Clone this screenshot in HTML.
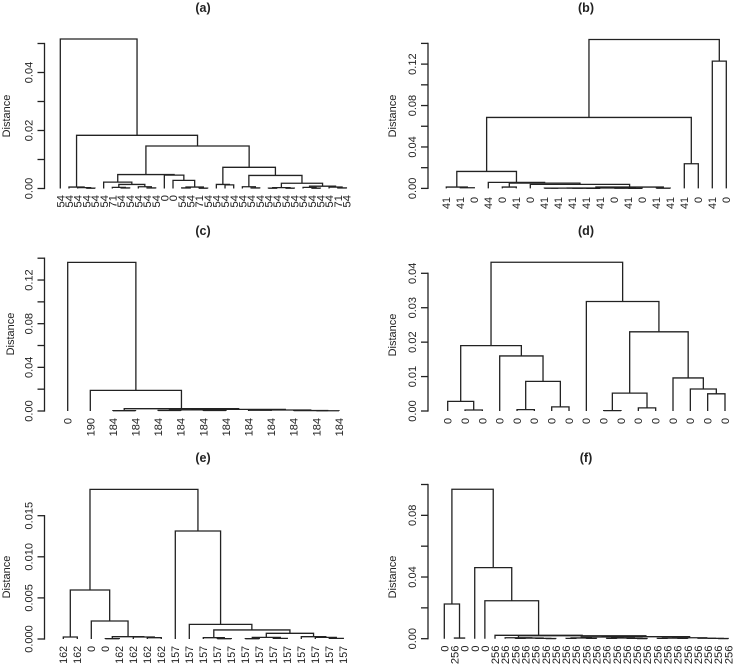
<!DOCTYPE html>
<html lang="en">
<head>
<meta charset="utf-8">
<title>Dendrogram panels (a)–(f)</title>
<style>
html,body{margin:0;padding:0;background:#fff;}
svg{display:block;font-family:"Liberation Sans",sans-serif;}
text{fill:#222;}
.panel-title{font-weight:bold;font-size:12.5px;text-anchor:middle;}
.y-title{font-size:11px;text-anchor:middle;}
</style>
</head>
<body>
<svg id="chart" width="734" height="665" viewBox="0 0 734 665" xmlns="http://www.w3.org/2000/svg">
  <text class="panel-title" x="203" y="12">(a)</text>
  <text class="panel-title" x="586" y="12">(b)</text>
  <text class="panel-title" x="203" y="235">(c)</text>
  <text class="panel-title" x="586" y="235">(d)</text>
  <text class="panel-title" x="203" y="462">(e)</text>
  <text class="panel-title" x="586" y="462">(f)</text>
  <text class="y-title" transform="translate(10,116) rotate(-90)">Distance</text>
  <text class="y-title" transform="translate(396,116) rotate(-90)">Distance</text>
  <text class="y-title" transform="translate(14,334) rotate(-90)">Distance</text>
  <text class="y-title" transform="translate(396,335) rotate(-90)">Distance</text>
  <text class="y-title" transform="translate(10,577) rotate(-90)">Distance</text>
  <text class="y-title" transform="translate(396,577) rotate(-90)">Distance</text>
</svg>
<script>
// Merge convention: a negative entry -n is the n-th leaf (left to right);
// a positive entry m is the m-th merge listed earlier in the same panel.

// Panel (a)
const labelsA = ["54","54","54","54","54","54","71","54","54","54","54","54","0","0","54","54","71","54","54","54","54","54","54","54","54","54","54","54","54","54","54","54","71","54"];
const mergeLeftA = [-4,-3,-2,-8,-7,-11,-10,5,-6,-15,-17,10,-14,-13,9,-20,-19,-23,-22,-25,-27,20,-30,-29,-33,-32,24,22,19,17,15,3,-1];
const mergeRightA = [-5,1,2,-9,4,-12,6,7,8,-16,-18,11,12,13,14,-21,16,-24,18,-26,-28,21,-31,23,-34,25,26,27,28,29,30,31,32];
const heightsA = [0.0001,0.0003,0.0005,0.0002,0.0004,0.0002,0.0006,0.0014,0.0022,0.0002,0.0001,0.0005,0.0028,0.0046,0.0048,0.00125,0.0014,0.0002,0.0006,0.0001,0.0001,0.0003,0.0001,0.0004,0.0002,0.0005,0.0008,0.0018,0.0045,0.0073,0.01465,0.01834,0.05156];
const ticksA = [0,0.01,0.02,0.03,0.04,0.05];
const tickLabelsA = ["0.00","","0.02","","0.04",""];

// Panel (b)
const labelsB = ["41","41","0","44","0","41","0","41","41","41","41","41","0","41","0","41","41","41","0","41","0"];
const mergeLeftB = [-2,-1,-5,-8,-11,-10,4,-14,-13,7,-16,10,-7,3,-4,2,-18,16,-20,18];
const mergeRightB = [-3,1,-6,-9,-12,5,6,-15,8,9,-17,11,12,13,14,15,-19,17,-21,19];
const heightsB = [0.0006,0.0013,0.0013,0.0002,0.0001,0.0002,0.0003,0.0001,0.0002,0.0004,0.0002,0.0013,0.0039,0.0051,0.0058,0.0164,0.0238,0.0685,0.1229,0.1438];
const ticksB = [0,0.02,0.04,0.06,0.08,0.10,0.12,0.14];
const tickLabelsB = ["0.00","","0.04","","0.08","","0.12",""];

// Panel (c)
const labelsC = ["0","190","184","184","184","184","184","184","184","184","184","184","184"];
const mergeLeftC = [-3,-5,-7,2,-9,-12,-11,5,4,1,-2,-1];
const mergeRightC = [-4,-6,-8,3,-10,-13,6,7,8,9,10,11];
const heightsC = [0.0003,0.0005,0.0005,0.0011,0.0007,0.0002,0.0004,0.0009,0.0015,0.0021,0.0189,0.1362];
const ticksC = [0,0.02,0.04,0.06,0.08,0.10,0.12,0.14];
const tickLabelsC = ["0.00","","0.04","","0.08","","0.12",""];

// Panel (d)
const labelsD = ["0","0","0","0","0","0","0","0","0","0","0","0","0","0","0","0","0"];
const mergeLeftD = [-2,-1,-5,-7,3,-4,2,-10,-12,8,-16,-15,-14,10,-9,7];
const mergeRightD = [-3,1,-6,-8,4,5,6,-11,-13,9,-17,11,12,13,14,15];
const heightsD = [0.0003,0.0028,0.0004,0.0012,0.0086,0.0160,0.0190,0.0001,0.0009,0.0052,0.0050,0.0064,0.0096,0.0230,0.0318,0.0432];
const ticksD = [0,0.01,0.02,0.03,0.04];
const tickLabelsD = ["0.00","0.01","0.02","0.03","0.04"];

// Panel (e)
const labelsE = ["162","162","0","0","162","162","162","162","157","157","157","157","157","157","157","157","157","157","157","157","157"];
const mergeLeftE = [-1,-4,-7,-6,2,-3,1,-12,-11,-14,-16,10,-20,-19,-18,12,9,-10,-9,7];
const mergeRightE = [-2,-5,-8,3,4,5,6,-13,8,-15,-17,11,-21,13,14,15,16,17,18,19];
const heightsE = [0.00024,0.00004,0.00016,0.00024,0.00028,0.00219,0.00596,0.00004,0.00016,0.00004,0.00008,0.0002,0.00008,0.0002,0.00028,0.00069,0.0011,0.00178,0.01314,0.0182];
const ticksE = [0,0.005,0.010,0.015];
const tickLabelsE = ["0.000","0.005","0.010","0.015"];

// Panel (f)
const labelsF = ["0","256","0","0","0","256","256","256","256","256","256","256","256","256","256","256","256","256","256","256","256","256","256","256","256","256","256","256","256"];
const mergeLeftF = [-2,-1,-8,-11,-10,3,-7,-13,-15,8,-17,-20,-19,11,10,-22,-24,16,-28,-27,-26,18,15,7,-6,-5,-4,2];
const mergeRightF = [-3,1,-9,-12,4,5,6,-14,-16,9,-18,-21,12,13,14,-23,-25,17,-29,19,20,21,22,23,24,25,26,27];
const heightsF = [0.0004,0.0225,0.0002,0.0001,0.0002,0.0004,0.0006,0.0002,0.0002,0.0005,0.0002,0.0001,0.0002,0.0005,0.0011,0.0002,0.0002,0.0004,0.0001,0.0002,0.0003,0.0006,0.0013,0.0019,0.0022,0.0246,0.0461,0.0969];
const ticksF = [0,0.02,0.04,0.06,0.08,0.10];
const tickLabelsF = ["0.00","","0.04","","0.08",""];

const SVG_NS = "http://www.w3.org/2000/svg";
const root = document.getElementById("chart");
const INK = "#222222";

function svgEl(tag, attrs, parent) {
  const node = document.createElementNS(SVG_NS, tag);
  for (const key in attrs) node.setAttribute(key, attrs[key]);
  parent.appendChild(node);
  return node;
}

function drawPanel(id, labels, mergeLeft, mergeRight, heights, ticks, tickLabels, frame) {
  const group = svgEl("g", {}, root);
  
  

  // Axis functions
  const topTick = ticks[ticks.length - 1];
  const yScale = function (v) { return frame.zeroY + (frame.topY - frame.zeroY) * v / topTick; };
  const xScale = function (i) { return frame.firstX + i * (frame.lastX - frame.firstX) / (labels.length - 1); };

  // Y axis
  const axis = svgEl("g", {}, group);
  
  
  const axisLine = svgEl("line", { x1: frame.axisX, x2: frame.axisX, y1: yScale(ticks[0]), y2: yScale(topTick), stroke: INK, "stroke-width": 1.3, "stroke-linecap": "square" }, axis);
  
  

  ticks.forEach(function (tick, i) {
    const py = yScale(tick);
    const mark = svgEl("line", { x1: frame.axisX - 7, x2: frame.axisX, y1: py, y2: py, stroke: INK, "stroke-width": 1.3 }, axis);
    
    
    if (tickLabels[i]) {
      const tx = frame.axisX - 12;
      const label = svgEl("text", { transform: "translate(" + tx + "," + py + ") rotate(-90)", "text-anchor": "middle", "font-size": 11 }, axis);
      label.textContent = tickLabels[i];
      
      
    }
  });

  // Leaf labels
  labels.forEach(function (text, i) {
    const lx = xScale(i) + frame.labelSize * 0.36;
    const leaf = svgEl("text", { transform: "translate(" + lx + "," + frame.labelTop + ") rotate(-90)", "text-anchor": "end", "font-size": frame.labelSize }, group);
    leaf.textContent = text;
    
    
  });

  // Merges: each node sits midway between its two children
  const nodeX = [];
  const nodeH = [];
  const childPosition = function (ref) {
    if (ref < 0) return { x: xScale(-ref - 1), h: 0 };
    return { x: nodeX[ref - 1], h: nodeH[ref - 1] };
  };
  heights.forEach(function (h, i) {
    const a = childPosition(mergeLeft[i]);
    const b = childPosition(mergeRight[i]);
    nodeX[i] = (a.x + b.x) / 2;
    nodeH[i] = h;
    const d = "M" + a.x + " " + yScale(a.h) + "V" + yScale(h) + "H" + b.x + "V" + yScale(b.h);
    const link = svgEl("path", { d: d, fill: "none", stroke: INK, "stroke-width": 1.3 }, group);
    
    
  });
}

drawPanel("a", labelsA, mergeLeftA, mergeRightA, heightsA, ticksA, tickLabelsA,
  { axisX: 44.5, zeroY: 188.5, topY: 43.5, firstX: 60.3, lastX: 346.4, labelTop: 195, labelSize: 11.4 });
drawPanel("b", labelsB, mergeLeftB, mergeRightB, heightsB, ticksB, tickLabelsB,
  { axisX: 428, zeroY: 188.4, topY: 43.4, firstX: 446.3, lastX: 726.3, labelTop: 197, labelSize: 10.8 });
drawPanel("c", labelsC, mergeLeftC, mergeRightC, heightsC, ticksC, tickLabelsC,
  { axisX: 44.5, zeroY: 411, topY: 258.2, firstX: 67.7, lastX: 339, labelTop: 418, labelSize: 11 });
drawPanel("d", labelsD, mergeLeftD, mergeRightD, heightsD, ticksD, tickLabelsD,
  { axisX: 428, zeroY: 411, topY: 273.3, firstX: 447.7, lastX: 725, labelTop: 418, labelSize: 10.8 });
drawPanel("e", labelsE, mergeLeftE, mergeRightE, heightsE, ticksE, tickLabelsE,
  { axisX: 44.5, zeroY: 639, topY: 515.7, firstX: 63.3, lastX: 343.3, labelTop: 646, labelSize: 10.6 });
drawPanel("f", labelsF, mergeLeftF, mergeRightF, heightsF, ticksF, tickLabelsF,
  { axisX: 428, zeroY: 638.7, topY: 484.5, firstX: 444.3, lastX: 728.3, labelTop: 645.5, labelSize: 11.2 });
</script>
</body>
</html>
